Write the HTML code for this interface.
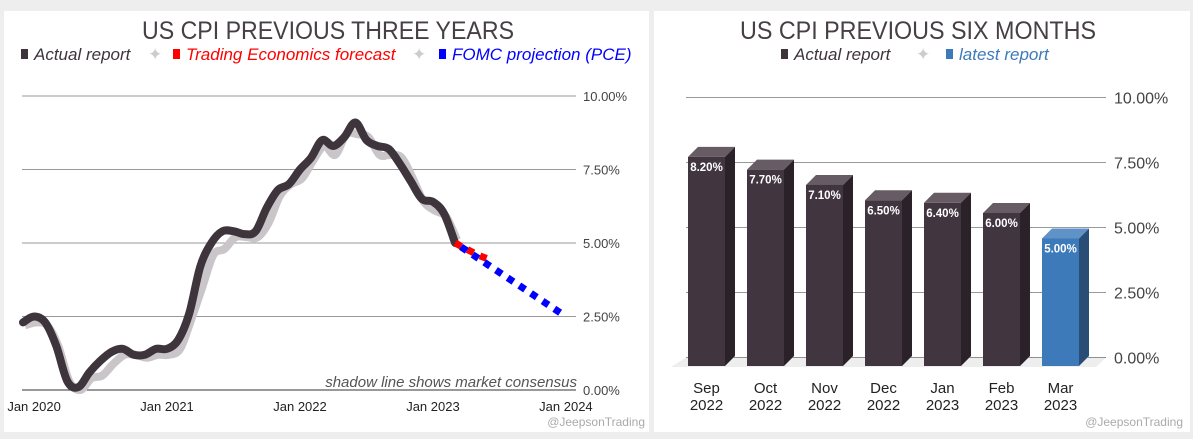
<!DOCTYPE html>
<html><head><meta charset="utf-8"><style>
body{margin:0;background:#eeeeee;width:1193px;height:439px;overflow:hidden;font-family:"Liberation Sans",sans-serif}
svg{position:absolute;left:0;top:0}
</style></head><body>
<svg width="1193" height="439">
<rect x="4" y="11" width="645" height="421" fill="#fff"/>
<rect x="654" y="11" width="536" height="421" fill="#fff"/>
<text x="328" y="39" text-anchor="middle" font-size="25" fill="#463f45" textLength="372" lengthAdjust="spacingAndGlyphs">US CPI PREVIOUS THREE YEARS</text>
<g font-size="17" font-style="italic">
<rect x="21" y="49" width="7" height="10" fill="#3e343c"/><text x="34" y="60" fill="#3e343c">Actual report</text>
<text x="148" y="60" fill="#ccc" font-style="normal">✦</text>
<rect x="173" y="49" width="7" height="10" fill="#f00"/><text x="186" y="60" fill="#f00">Trading Economics forecast</text>
<text x="412" y="60" fill="#ccc" font-style="normal">✦</text>
<rect x="439" y="49" width="7" height="10" fill="#00f"/><text x="452" y="60" fill="#00f">FOMC projection (PCE)</text>
</g>
<g id="lc"></g>
<text x="918" y="39" text-anchor="middle" font-size="25" fill="#463f45" textLength="356" lengthAdjust="spacingAndGlyphs">US CPI PREVIOUS SIX MONTHS</text>
<g font-size="17" font-style="italic">
<rect x="781" y="49" width="7" height="10" fill="#3e343c"/><text x="794" y="60" fill="#3e343c">Actual report</text>
<text x="916" y="60" fill="#ccc" font-style="normal">✦</text>
<rect x="946" y="49" width="7" height="10" fill="#3d7ab9"/><text x="959" y="60" fill="#3d7ab9">latest report</text>
</g>
<g id="bc"></g>
<text x="645" y="426" text-anchor="end" font-size="12" fill="#aaa">@JeepsonTrading</text>
<text x="1183" y="426" text-anchor="end" font-size="12" fill="#aaa">@JeepsonTrading</text>
</svg>
<script>
const NS="http://www.w3.org/2000/svg";
function mk(p,t,a){const e=document.createElementNS(NS,t);for(const k in a)e.setAttribute(k,a[k]);p.appendChild(e);return e;}
// ---- line chart data (monthly, starting Dec 2019)
const actual=[2.3,2.5,2.3,1.5,0.3,0.1,0.6,1.0,1.3,1.4,1.2,1.2,1.4,1.4,1.7,2.6,4.2,5.0,5.4,5.4,5.3,5.4,6.2,6.8,7.0,7.5,7.9,8.5,8.3,8.6,9.1,8.5,8.3,8.2,7.7,7.1,6.5,6.4,6.0,5.0];
const consensus=[2.3,2.4,2.3,1.6,0.4,0.1,0.5,0.6,1.0,1.3,1.3,1.2,1.3,1.3,1.5,2.5,3.6,4.7,4.9,5.3,5.3,5.3,5.8,6.7,7.1,7.3,7.9,8.4,8.1,8.8,8.8,8.7,8.1,8.1,8.0,7.3,6.5,6.2,6.0,5.2];
const teForecast=[5.0,4.8,4.6,4.45];          // Mar..Jun 2023
const fomc=[5.0,4.75,4.5,4.25,4.0,3.75,3.5,3.25,3.0,2.75,2.5]; // Mar 2023 .. Jan 2024
const lTicks=["0.00%","2.50%","5.00%","7.50%","10.00%"];
const xLabels=["Jan 2020","Jan 2021","Jan 2022","Jan 2023","Jan 2024"];
const lc=document.getElementById('lc');
const lx=i=>23+i*11.08, ly=v=>390-v*29.4;
lTicks.forEach((t,i)=>{const v=i*2.5;
 const g=mk(lc,'line',{x1:22,x2:576,y1:ly(v),y2:ly(v),stroke:i==0?'#333':'#999','stroke-width':1});
 
 const tx=mk(lc,'text',{x:583,y:ly(v)+5,'font-size':13,fill:'#444'});tx.textContent=t;
 });
xLabels.forEach((t,i)=>{const tx=mk(lc,'text',{x:lx(1+i*12),y:411,'font-size':13,fill:'#222','text-anchor':'middle'});tx.textContent=t;
 });
function smooth(pts){let d=`M${pts[0][0]},${pts[0][1]}`;for(let i=0;i<pts.length-1;i++){const p0=pts[i-1]||pts[i],p1=pts[i],p2=pts[i+1],p3=pts[i+2]||p2;
 d+=` C${p1[0]+(p2[0]-p0[0])/6},${p1[1]+(p2[1]-p0[1])/6} ${p2[0]-(p3[0]-p1[0])/6},${p2[1]-(p3[1]-p1[1])/6} ${p2[0]},${p2[1]}`;}return d;}
const sh=mk(lc,'path',{d:smooth(consensus.map((v,i)=>[lx(i)+2,ly(v)+3])),fill:'none',stroke:'#c9c5c9','stroke-width':8,'stroke-linejoin':'round'});

const al=mk(lc,'path',{d:smooth(actual.map((v,i)=>[lx(i),ly(v)])),fill:'none',stroke:'#3e343c','stroke-width':8,'stroke-linejoin':'round','stroke-linecap':'round'});

const s0=actual.length-1;
const rl=mk(lc,'polyline',{points:teForecast.map((v,i)=>`${lx(s0+i)},${ly(v)}`).join(' '),fill:'none',stroke:'#f00','stroke-width':7,'stroke-dasharray':'7 7','stroke-dashoffset':'0'});

const bl=mk(lc,'polyline',{points:fomc.map((v,i)=>`${lx(s0+i)},${ly(v)}`).join(' '),fill:'none',stroke:'#00f','stroke-width':7,'stroke-dasharray':'7 7','stroke-dashoffset':'-7'});

const note=mk(lc,'text',{x:577,y:387,'text-anchor':'end','font-size':15,'font-style':'italic',fill:'#555'});note.textContent='shadow line shows market consensus';

// ---- bar chart data
const months=["Sep","Oct","Nov","Dec","Jan","Feb","Mar"];
const years=["2022","2022","2022","2022","2023","2023","2023"];
const cpi=[8.2,7.7,7.1,6.5,6.4,6.0,5.0];
const bTicks=["0.00%","2.50%","5.00%","7.50%","10.00%"];
const bc=document.getElementById('bc');
const by=v=>357.5-v*26;
bTicks.forEach((t,i)=>{const v=i*2.5;
 const g=mk(bc,'line',{x1:686,x2:1106,y1:by(v),y2:by(v),stroke:i==0?'#333':'#999','stroke-width':1});
 
 const tx=mk(bc,'text',{x:1114,y:by(v)+6,'font-size':16,fill:'#444'});tx.textContent=t;
 });
const fl=mk(bc,'polygon',{points:'686,357.5 1106,357.5 1096,367 671,367',fill:'#eee'});

cpi.forEach((v,i)=>{const x=688+i*59,w=37,d=10,bot=366,top=bot-v*25.5;const last=i==cpi.length-1;
 const g=mk(bc,'g',{});
 mk(g,'polygon',{points:`${x},${top} ${x+d},${top-d} ${x+w+d},${top-d} ${x+w},${top}`,fill:last?'#5f93c8':'#675c64'});
 mk(g,'polygon',{points:`${x+w},${top} ${x+w+d},${top-d} ${x+w+d},${bot-d} ${x+w},${bot}`,fill:last?'#2a4d76':'#2b2229'});
 mk(g,'rect',{x:x,y:top,width:w,height:bot-top,fill:last?'#3d7ab9':'#413640'});
 const t=mk(g,'text',{x:x+w/2,y:top+14,'text-anchor':'middle','font-size':11.5,'font-weight':'bold',fill:'#fff'});t.textContent=v.toFixed(2)+'%';
 const l1=mk(bc,'text',{x:x+w/2,y:393,'text-anchor':'middle','font-size':15,fill:'#222'});l1.textContent=months[i];
 
 const l2=mk(bc,'text',{x:x+w/2,y:410,'text-anchor':'middle','font-size':15,fill:'#222'});l2.textContent=years[i];
 
});
</script>
</body></html>
